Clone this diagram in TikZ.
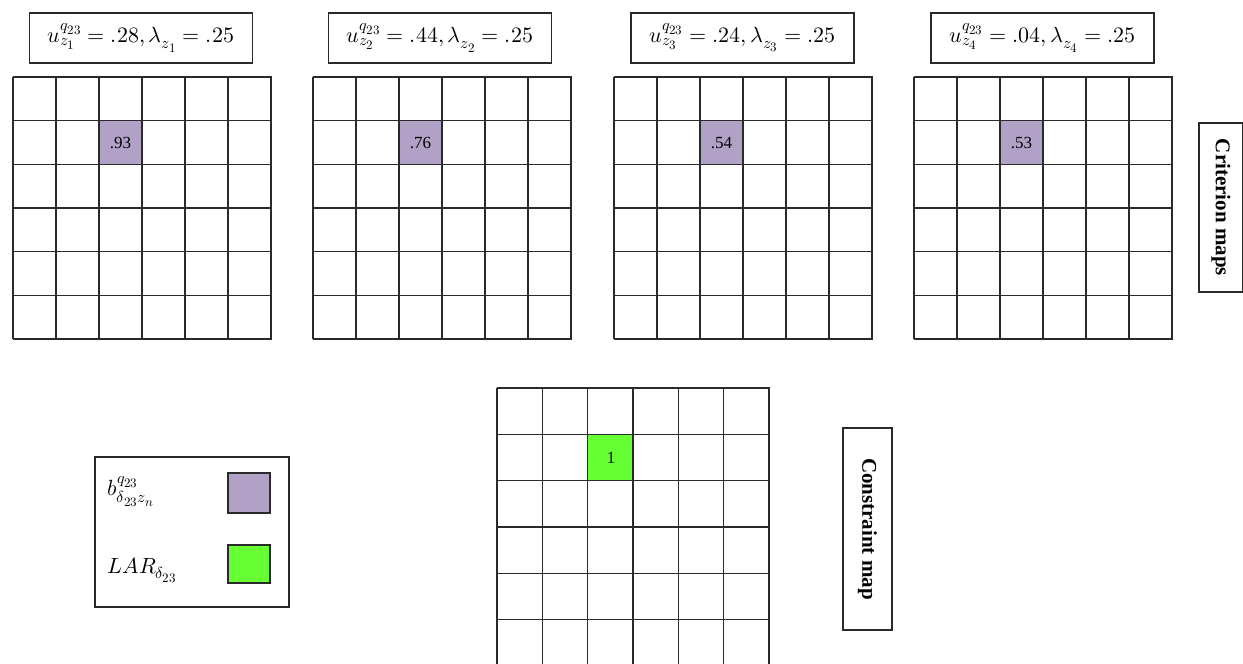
\documentclass[tikz,border=0pt]{standalone}
\usepackage{fontspec}
\usepackage{unicode-math}
\setmainfont{Liberation Serif}
\setmathfont{Latin Modern Math}
\DeclareMathSizes{22}{22}{16}{13}
\definecolor{critpurple}{HTML}{B1A1C7}
\definecolor{laregreen}{HTML}{66FF33}
\definecolor{linegray}{HTML}{2A2A2A}
\begin{document}
\begin{tikzpicture}[x=1pt,y=-1pt,
  gridline/.style={line width=1.2pt, draw=linegray},
  framebox/.style={draw=linegray, line width=1.1pt, fill=white, inner sep=0pt},
  titlebox/.style={framebox, minimum width=223pt, minimum height=50pt, font=\fontsize{22}{24}\selectfont},
  critcell/.style={fill=critpurple, inner sep=0pt, minimum width=43pt, minimum height=43.6pt, font=\fontsize{17}{19}\selectfont},
  conscell/.style={fill=laregreen, inner sep=0pt, minimum width=45.3pt, minimum height=46.3pt, font=\fontsize{17}{19}\selectfont},
  sidebox/.style={framebox, font=\bfseries\fontsize{21}{24}\selectfont},
  legsq/.style={draw=linegray, line width=1.1pt, inner sep=0pt, minimum width=42pt}
]
\clip (0,0) rectangle (1243,664);
\useasboundingbox (0,0) rectangle (1243,664);

% title boxes
\node[titlebox] (t1) at (141,38) {$u_{z_1}^{q_{23}}=.28,\lambda_{z_1}=.25$};
\node[titlebox] (t2) at (440,38) {$u_{z_2}^{q_{23}}=.44,\lambda_{z_2}=.25$};
\node[titlebox] (t3) at (742.5,38) {$u_{z_3}^{q_{23}}=.24,\lambda_{z_3}=.25$};
\node[titlebox] (t4) at (1042.5,38) {$u_{z_4}^{q_{23}}=.04,\lambda_{z_4}=.25$};

% highlighted criterion cells
\node[critcell] (c1) at (120.5,142.8) {.93};
\node[critcell] (c2) at (420.5,142.8) {.76};
\node[critcell] (c3) at (721.5,142.8) {.54};
\node[critcell] (c4) at (1021.5,142.8) {.53};

% criterion grids
\foreach \gx in {13,313,614,914} {
  \foreach \i in {0,...,6} {
    \draw[gridline] ({\gx+\i*43},77) -- ({\gx+\i*43},339);
    \draw[gridline] ({\gx-0.5},{77+\i*43.67}) -- ({\gx+258.5},{77+\i*43.67});
  }
}

% constraint map
\node[conscell] (g1) at (611,458) {1};
\foreach \i in {0,...,6} {
  \draw[gridline] ({497+\i*45.33},388) -- ({497+\i*45.33},670);
}
\foreach \i in {0,...,5} {
  \draw[gridline] (496.5,{388+\i*46.3}) -- (769.5,{388+\i*46.3});
}

% side labels
\node[sidebox, minimum width=44pt, minimum height=169pt] (crit) at (1221,207.5) {};
\node[font=\bfseries\fontsize{21}{24}\selectfont, rotate=-90] (critlbl) at (crit.center) {Criterion maps};
\node[sidebox, minimum width=49pt, minimum height=202pt] (cons) at (867.5,529) {};
\node[font=\bfseries\fontsize{21}{24}\selectfont, rotate=-90] (conslbl) at (cons.center) {Constraint map};

% legend
\node[framebox, minimum width=194pt, minimum height=150pt] (leg) at (192,532) {};
\node[legsq, fill=critpurple, minimum height=40pt] (lp) at (249,493) {};
\node[legsq, fill=laregreen, minimum height=38pt] (lg) at (249,564) {};
\node[anchor=west, font=\fontsize{22}{24}\selectfont] (lpt) at (104,492) {$b_{\delta_{23}z_n}^{q_{23}}$};
\node[anchor=west, font=\fontsize{22}{24}\selectfont] (lgt) at (104,570) {$LAR_{\delta_{23}}$};
\end{tikzpicture}
\end{document}
